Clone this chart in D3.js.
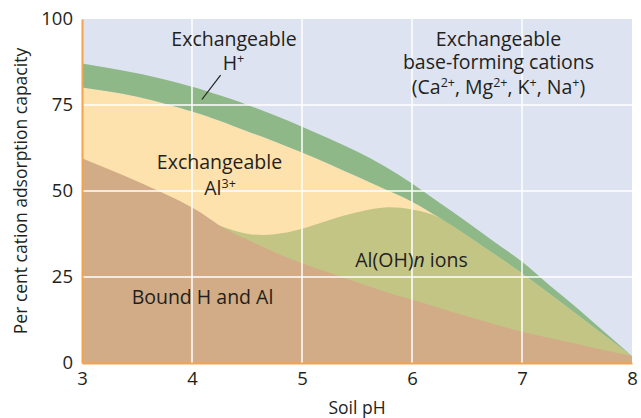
<!DOCTYPE html>
<html>
<head>
<meta charset="utf-8">
<script src="https://cdn.jsdelivr.net/npm/d3@7"></script>
<style>
  html, body { margin: 0; padding: 0; background: #ffffff; }
  svg { display: block; }
  text { font-family: "Open Sans", "Noto Sans", sans-serif; fill: #231f20; }
</style>
</head>
<body>
<svg id="chart" width="641" height="418"></svg>
<script>
// ---------- data ----------
const pH          = [3, 3.5, 4, 4.25, 4.5, 4.75, 5, 5.25, 5.5, 5.75, 6, 6.25, 6.5, 6.75, 7, 7.25, 7.5, 7.75, 8];
// upper boundary of "Exchangeable H+" (cumulative %)
const exchHTop    = [87.1, 84.2, 80.3, 77.8, 75.1, 72.0, 68.7, 65.2, 61.5, 57.2, 52.2, 46.6, 41.0, 35.2, 29.4, 22.6, 16.0, 9.0, 2];
// upper boundary of "Exchangeable Al3+" (cumulative %)
const exchAlTop   = [80.1, 77.4, 73.1, 70.4, 67.4, 64.4, 61.2, 57.8, 54.2, 50.6, 46.9, 42.2, 37.1, 31.6, 26.1, 20.1, 14.1, 8.0, 2];
// upper boundary of "Al(OH)n ions" (cumulative %), absent below pH ~4.25
const alohTop     = [null, null, null, 40.0, 37.6, 37.4, 39.0, 41.6, 43.8, 45.2, 44.6, 42.2, 37.1, 31.6, 26.1, 20.1, 14.1, 8.0, 2];
// upper boundary of "Bound H and Al" (%)
const boundTop    = [59.5, 52.8, 45.2, 40.0, 35.9, 32.2, 29.0, 26.2, 23.5, 20.8, 18.4, 16.0, 13.6, 11.3, 9.1, 7.3, 5.5, 3.7, 2];

const xTicks = [3, 4, 5, 6, 7, 8];
const yTicks = [0, 25, 50, 75, 100];
const xTitle = "Soil pH";
const yTitle = "Per cent cation adsorption capacity";

// ---------- layout ----------
const svg = d3.select("#chart");
const x = d3.scaleLinear().domain([3, 8]).range([82, 632]);
const y = d3.scaleLinear().domain([0, 100]).range([363, 19]);

const col = {
  bg: "#dde3f1", h: "#8fb888", al: "#fee2ae", aloh: "#c3c585", bound: "#d1ac86",
  axis: "#f6a24c", grid: "#ffffff"
};

const idx = d3.range(pH.length);
const curve = d3.curveNatural;

// background (exchangeable base-forming cations)
svg.append("rect")
  .attr("x", x(3)).attr("y", y(100))
  .attr("width", x(8) - x(3)).attr("height", y(0) - y(100))
  .attr("fill", col.bg);

// exchangeable Al3+ (painted from 0 up, later covered)
svg.append("path")
  .attr("fill", col.al)
  .attr("d", d3.area().curve(curve)
    .x(i => x(pH[i])).y0(y(0)).y1(i => y(exchAlTop[i]))(idx));

// Al(OH)n ions
svg.append("path")
  .attr("fill", col.aloh)
  .attr("d", d3.area().curve(curve)
    .defined(i => alohTop[i] != null)
    .x(i => x(pH[i])).y0(y(0)).y1(i => y(alohTop[i]))(idx));

// Bound H and Al
svg.append("path")
  .attr("fill", col.bound)
  .attr("d", d3.area().curve(curve)
    .x(i => x(pH[i])).y0(y(0)).y1(i => y(boundTop[i]))(idx));

// exchangeable H+ band
svg.append("path")
  .attr("fill", col.h)
  .attr("d", d3.area().curve(curve)
    .x(i => x(pH[i])).y0(i => y(exchAlTop[i])).y1(i => y(exchHTop[i]))(idx));

// grid lines
svg.append("g").selectAll("line")
  .data(xTicks.filter(t => t > 3 && t < 8)).join("line")
  .attr("x1", d => x(d)).attr("x2", d => x(d))
  .attr("y1", y(0)).attr("y2", y(100))
  .attr("stroke", col.grid).attr("stroke-width", 1.5);
svg.append("g").selectAll("line")
  .data(yTicks.filter(t => t > 0 && t < 100)).join("line")
  .attr("x1", x(3)).attr("x2", x(8))
  .attr("y1", d => y(d)).attr("y2", d => y(d))
  .attr("stroke", col.grid).attr("stroke-width", 1.5);

// axes
const gx = svg.append("g").attr("transform", `translate(0,${y(0)})`)
  .call(d3.axisBottom(x).tickValues(xTicks).tickSize(0).tickPadding(9).tickFormat(d3.format("d")));
const gy = svg.append("g").attr("transform", `translate(${x(3)},0)`)
  .call(d3.axisLeft(y).tickValues(yTicks).tickSize(0).tickPadding(9).tickFormat(d3.format("d")));
[gx, gy].forEach(g => {
  g.select(".domain").attr("stroke", col.axis).attr("stroke-width", 2);
  g.selectAll("text").attr("font-size", 18.5).attr("fill", "#231f20")
    .attr("font-family", '"Open Sans", "Noto Sans", sans-serif');
});

// axis titles
svg.append("text")
  .attr("x", (x(3) + x(8)) / 2).attr("y", 414)
  .attr("text-anchor", "middle").attr("font-size", 17.5).text(xTitle);
svg.append("text")
  .attr("transform", `translate(27,${(y(0) + y(100)) / 2}) rotate(-90)`)
  .attr("text-anchor", "middle").attr("font-size", 17.5).text(yTitle);

// ---------- annotations (multi-line labels are single text elements) ----------
const fs = 19.5, sup = 12.5, rise = 7;
function label(lines) {
  const t = svg.append("text").attr("text-anchor", "middle").attr("font-size", fs);
  lines.forEach(line => {
    let first = true;
    let shift = 0;
    line.parts.forEach(p => {
      const s = t.append("tspan").text(p.t);
      if (first) { s.attr("x", line.x).attr("y", line.y); first = false; shift = 0; }
      if (p.sup) { s.attr("font-size", sup).attr("dy", -rise); shift = -rise; }
      else if (shift !== 0) { s.attr("dy", -shift); shift = 0; }
      if (p.it) s.attr("font-style", "italic");
    });
  });
  return t;
}

label([
  {x: 234, y: 46, parts: [{t: "Exchangeable"}]},
  {x: 233.5, y: 70, parts: [{t: "H"}, {t: "+", sup: true}]}
]);
svg.append("line")
  .attr("x1", x(4.26)).attr("y1", y(83.7))
  .attr("x2", x(4.09)).attr("y2", y(76.6))
  .attr("stroke", "#231f20").attr("stroke-width", 1.2);

label([
  {x: 498.5, y: 46, parts: [{t: "Exchangeable"}]},
  {x: 498.5, y: 69, parts: [{t: "base-forming cations"}]},
  {x: 498.5, y: 93.5, parts: [
    {t: "(Ca"}, {t: "2+", sup: true}, {t: ", Mg"}, {t: "2+", sup: true},
    {t: ", K"}, {t: "+", sup: true}, {t: ", Na"}, {t: "+", sup: true}, {t: ")"}
  ]}
]);

label([
  {x: 219.5, y: 169, parts: [{t: "Exchangeable"}]},
  {x: 220, y: 195, parts: [{t: "Al"}, {t: "3+", sup: true}]}
]);

label([{x: 411.5, y: 267, parts: [{t: "Al(OH)"}, {t: "n", it: true}, {t: " ions"}]}]);
label([{x: 202.5, y: 304, parts: [{t: "Bound H and Al"}]}]);
</script>
</body>
</html>
